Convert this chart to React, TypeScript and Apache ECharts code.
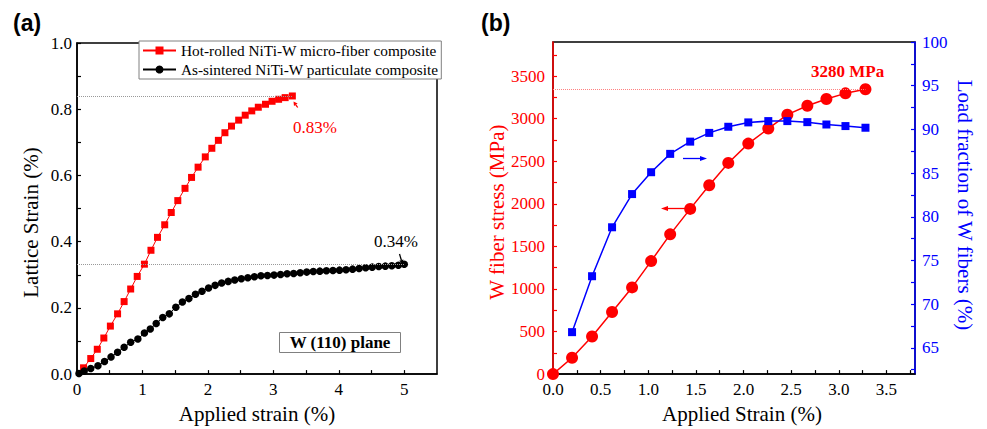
import React, { useEffect, useRef } from 'react';
import * as echarts from 'echarts';

const SERIF = '"Liberation Serif", "Times New Roman", serif';
const SANS = '"Liberation Sans", Arial, sans-serif';

// ---------- Panel (a) data ----------
const redAName = 'Hot-rolled NiTi-W micro-fiber composite';
const blackAName = 'As-sintered NiTi-W particulate composite';
const redAX = [0.1, 0.21, 0.31, 0.41, 0.51, 0.62, 0.72, 0.82, 0.92, 1.03, 1.13, 1.23, 1.34, 1.44, 1.54, 1.65, 1.75, 1.85, 1.96, 2.06, 2.16, 2.26, 2.36, 2.47, 2.57, 2.67, 2.77, 2.88, 2.98, 3.08, 3.18, 3.29];
const redAY = [0.019, 0.047, 0.075, 0.109, 0.145, 0.182, 0.219, 0.257, 0.295, 0.332, 0.374, 0.413, 0.451, 0.488, 0.524, 0.561, 0.594, 0.625, 0.656, 0.682, 0.706, 0.729, 0.749, 0.767, 0.782, 0.795, 0.806, 0.815, 0.824, 0.83, 0.835, 0.84];
const blackAX = [0.03, 0.11, 0.21, 0.32, 0.42, 0.52, 0.62, 0.72, 0.82, 0.93, 1.03, 1.12, 1.21, 1.31, 1.41, 1.51, 1.61, 1.71, 1.81, 1.91, 2.01, 2.11, 2.21, 2.31, 2.41, 2.51, 2.61, 2.71, 2.81, 2.91, 3.01, 3.11, 3.21, 3.31, 3.41, 3.51, 3.61, 3.71, 3.81, 3.91, 4.01, 4.11, 4.21, 4.31, 4.41, 4.51, 4.61, 4.71, 4.81, 4.91, 5.0];
const blackAY = [0.002, 0.009, 0.017, 0.025, 0.038, 0.052, 0.066, 0.081, 0.096, 0.106, 0.124, 0.136, 0.153, 0.171, 0.182, 0.202, 0.218, 0.228, 0.241, 0.25, 0.26, 0.268, 0.275, 0.28, 0.284, 0.288, 0.291, 0.294, 0.297, 0.298, 0.299, 0.301, 0.303, 0.304, 0.306, 0.308, 0.31, 0.311, 0.312, 0.313, 0.314, 0.315, 0.317, 0.319, 0.321, 0.323, 0.325, 0.326, 0.327, 0.329, 0.332];
const aXTicks = [0, 0.5, 1, 1.5, 2, 2.5, 3, 3.5, 4, 4.5, 5];
const aXLabels = [0, 1, 2, 3, 4, 5];
const aYTicks = [0, 0.1, 0.2, 0.3, 0.4, 0.5, 0.6, 0.7, 0.8, 0.9, 1.0];
const aYLabels = [0, 0.2, 0.4, 0.6, 0.8, 1.0];

// ---------- Panel (b) data ----------
const stressX = [0, 0.2, 0.41, 0.62, 0.83, 1.03, 1.23, 1.44, 1.64, 1.84, 2.05, 2.26, 2.46, 2.67, 2.87, 3.07, 3.28];
const stressY = [0, 192, 441, 729, 1018, 1327, 1641, 1940, 2217, 2480, 2707, 2883, 3047, 3151, 3231, 3297, 3345];
const loadX = [0.2, 0.41, 0.62, 0.83, 1.03, 1.23, 1.44, 1.64, 1.84, 2.05, 2.26, 2.46, 2.67, 2.87, 3.07, 3.28];
const loadY = [66.8, 73.2, 78.8, 82.6, 85.1, 87.2, 88.6, 89.6, 90.3, 90.8, 90.95, 90.95, 90.83, 90.56, 90.38, 90.19];
const bXTicks = [0, 0.25, 0.5, 0.75, 1, 1.25, 1.5, 1.75, 2, 2.25, 2.5, 2.75, 3, 3.25, 3.5, 3.75];
const bXLabels = [0, 0.5, 1, 1.5, 2, 2.5, 3, 3.5];
const bLTicks = [0, 250, 500, 750, 1000, 1250, 1500, 1750, 2000, 2250, 2500, 2750, 3000, 3250, 3500, 3750];
const bLLabels = [0, 500, 1000, 1500, 2000, 2500, 3000, 3500];
const bRTicks = [62.5, 65, 67.5, 70, 72.5, 75, 77.5, 80, 82.5, 85, 87.5, 90, 92.5, 95, 97.5, 100];
const bRLabels = [65, 70, 75, 80, 85, 90, 95, 100];

const zip = (xs: number[], ys: number[]) => xs.map((x, i) => [x, ys[i]]);
const last = (a: number[]) => a[a.length - 1];

function arrow(x1: number, y1: number, x2: number, y2: number, color: string, hl: number, hw: number) {
  const dx = x2 - x1, dy = y2 - y1;
  const len = Math.sqrt(dx * dx + dy * dy);
  const ux = dx / len, uy = dy / len;
  const bx = x2 - ux * hl, by = y2 - uy * hl;
  const px = -uy * hw, py = ux * hw;
  return [
    { type: 'line', shape: { x1, y1, x2: bx, y2: by }, style: { stroke: color, lineWidth: 1.3 }, silent: true },
    { type: 'polygon', shape: { points: [[x2, y2], [bx + px, by + py], [bx - px, by - py]] }, style: { fill: color }, silent: true },
  ];
}

function txt(x: number, y: number, text: string, font: string, fill: string, align = 'left') {
  return {
    type: 'text', x, y, silent: true,
    style: { text, font, fill, align, verticalAlign: 'middle', textAlign: align, textVerticalAlign: 'middle' },
  };
}

const tickAxis = (color: string) => ({
  axisLine: { show: true, lineStyle: { color, width: 1.5 } },
  splitLine: { show: false },
});

export default function App() {
  const ref = useRef<HTMLDivElement>(null);
  useEffect(() => {
    const chart = echarts.init(ref.current!, null, { renderer: 'svg' });
    const option: any = {
      animation: false,
      backgroundColor: '#fff',
      grid: [
        { left: 77, top: 43, width: 360, height: 336, show: true, borderColor: '#000', borderWidth: 1.5, backgroundColor: 'transparent' },
        { left: 553, top: 42, width: 362, height: 340, show: true, borderColor: '#000', borderWidth: 1.5, backgroundColor: 'transparent' },
      ],
      legend: {
        orient: 'vertical', left: 139, top: 41, padding: [2, 3, 2, 3], itemGap: 4,
        itemWidth: 33, itemHeight: 10, borderColor: '#808080', borderWidth: 1, backgroundColor: '#fff',
        textStyle: { fontFamily: SERIF, fontSize: 15.3, color: '#000', lineHeight: 15 },
        data: [redAName, blackAName],
      },
      xAxis: [
        {
          type: 'value', gridIndex: 0, min: 0, max: 5.5, ...tickAxis('#000'),
          axisTick: { show: true, inside: true, length: 4, customValues: aXTicks, lineStyle: { color: '#000', width: 1.2 } },
          axisLabel: { customValues: aXLabels, fontFamily: SERIF, fontSize: 17, color: '#000', margin: 7, formatter: (v: number) => String(v) },
          name: 'Applied strain (%)', nameLocation: 'middle', nameGap: 27,
          nameTextStyle: { fontFamily: SERIF, fontSize: 21, color: '#000' },
        },
        {
          type: 'value', gridIndex: 1, min: 0, max: 3.8, ...tickAxis('#000'),
          axisTick: { show: true, inside: true, length: 4, customValues: bXTicks, lineStyle: { color: '#000', width: 1.2 } },
          axisLabel: { customValues: bXLabels, fontFamily: SERIF, fontSize: 17, color: '#000', margin: 7, formatter: (v: number) => v.toFixed(1) },
          name: 'Applied Strain (%)', nameLocation: 'middle', nameGap: 25,
          nameTextStyle: { fontFamily: SERIF, fontSize: 21, color: '#000', padding: [0, 0, 0, 16] },
        },
      ],
      yAxis: [
        {
          type: 'value', gridIndex: 0, min: 0, max: 1, ...tickAxis('#000'),
          axisTick: { show: true, inside: true, length: 4, customValues: aYTicks, lineStyle: { color: '#000', width: 1.2 } },
          axisLabel: { customValues: aYLabels, fontFamily: SERIF, fontSize: 17, color: '#000', margin: 5, formatter: (v: number) => v.toFixed(1) },
          name: 'Lattice Strain (%)', nameLocation: 'middle', nameRotate: 90, nameGap: 36,
          nameTextStyle: { fontFamily: SERIF, fontSize: 21, color: '#000', padding: [0, 28, 0, 0] },
        },
        {
          type: 'value', gridIndex: 1, min: 0, max: 3900, position: 'left', ...tickAxis('#ff0000'),
          axisTick: { show: true, inside: true, length: 4, customValues: bLTicks, lineStyle: { color: '#ff0000', width: 1.2 } },
          axisLabel: { customValues: bLLabels, fontFamily: SERIF, fontSize: 17, color: '#ff0000', margin: 8, formatter: (v: number) => String(v) },
          name: 'W fiber stress (MPa)', nameLocation: 'middle', nameRotate: 90, nameGap: 45,
          nameTextStyle: { fontFamily: SERIF, fontSize: 21, color: '#ff0000', padding: [0, 8, 0, 0] },
        },
        {
          type: 'value', gridIndex: 1, min: 62, max: 100, position: 'right', ...tickAxis('#0000ff'),
          axisTick: { show: true, inside: true, length: 4, customValues: bRTicks, lineStyle: { color: '#0000ff', width: 1.2 } },
          axisLabel: { customValues: bRLabels, fontFamily: SERIF, fontSize: 17, color: '#0000ff', margin: 7, formatter: (v: number) => String(v) },
          name: 'Load fraction of W fibers (%)', nameLocation: 'middle', nameRotate: -90, nameGap: 39,
          nameTextStyle: { fontFamily: SERIF, fontSize: 21, color: '#0000ff', padding: [0, 6, 0, 0] },
        },
      ],
      series: [
        {
          name: redAName, type: 'line', xAxisIndex: 0, yAxisIndex: 0, data: zip(redAX, redAY),
          symbol: 'rect', symbolSize: 7, itemStyle: { color: '#ff0000' }, lineStyle: { color: '#ff0000', width: 1 },
          markLine: {
            silent: true, symbol: 'none', label: { show: false }, animation: false,
            lineStyle: { type: 'dotted', color: '#999', width: 1 },
            data: [[{ coord: [0, last(redAY)] }, { coord: [last(redAX), last(redAY)] }]],
          },
        },
        {
          name: blackAName, type: 'line', xAxisIndex: 0, yAxisIndex: 0, data: zip(blackAX, blackAY),
          symbol: 'circle', symbolSize: 7.5, itemStyle: { color: '#000' }, lineStyle: { color: '#000', width: 1 },
          markLine: {
            silent: true, symbol: 'none', label: { show: false }, animation: false,
            lineStyle: { type: 'dotted', color: '#999', width: 1 },
            data: [[{ coord: [0, last(blackAY)] }, { coord: [last(blackAX), last(blackAY)] }]],
          },
        },
        {
          name: 'W fiber stress', type: 'line', xAxisIndex: 1, yAxisIndex: 1, data: zip(stressX, stressY),
          symbol: 'circle', symbolSize: 12, itemStyle: { color: '#ff0000' }, lineStyle: { color: '#ff0000', width: 1.5 },
          markLine: {
            silent: true, symbol: 'none', label: { show: false }, animation: false,
            lineStyle: { type: 'dotted', color: '#ff8080', width: 1 },
            data: [[{ coord: [0, last(stressY)] }, { coord: [last(stressX), last(stressY)] }]],
          },
        },
        {
          name: 'Load fraction', type: 'line', xAxisIndex: 1, yAxisIndex: 2, data: zip(loadX, loadY),
          symbol: 'rect', symbolSize: 8, itemStyle: { color: '#0000ff' }, lineStyle: { color: '#0000ff', width: 1.5 },
        },
      ],
      graphic: [
        txt(13, 23, '(a)', `bold 23px ${SANS}`, '#000'),
        txt(481, 23, '(b)', `bold 23px ${SANS}`, '#000'),
        txt(293, 127, '0.83%', `17px ${SERIF}`, '#ff0000'),
        txt(374, 241, '0.34%', `17px ${SERIF}`, '#000'),
        txt(811, 71, '3280 MPa', `bold 17px ${SERIF}`, '#ff0000'),
        { type: 'rect', shape: { x: 279.5, y: 332.5, width: 121, height: 20 }, style: { fill: '#fff', stroke: '#808080', lineWidth: 1 }, silent: true },
        txt(340, 342.5, 'W (110) plane', `bold 17px ${SERIF}`, '#000', 'center'),
        ...arrow(297.7, 107.5, 293.5, 101.5, '#ff0000', 4, 2.2),
        ...arrow(399.5, 254, 402.5, 264, '#000', 4, 2.2),
        ...arrow(683, 158.5, 707, 158.5, '#0000ff', 7, 2.6),
        ...arrow(685, 208.5, 661, 208.5, '#ff0000', 7, 2.6),
      ],
    };
    chart.setOption(option);
    return () => chart.dispose();
  }, []);
  return <div ref={ref} style={{ position: 'fixed', left: 0, top: 0, width: 987, height: 429, background: '#fff' }} />;
}
